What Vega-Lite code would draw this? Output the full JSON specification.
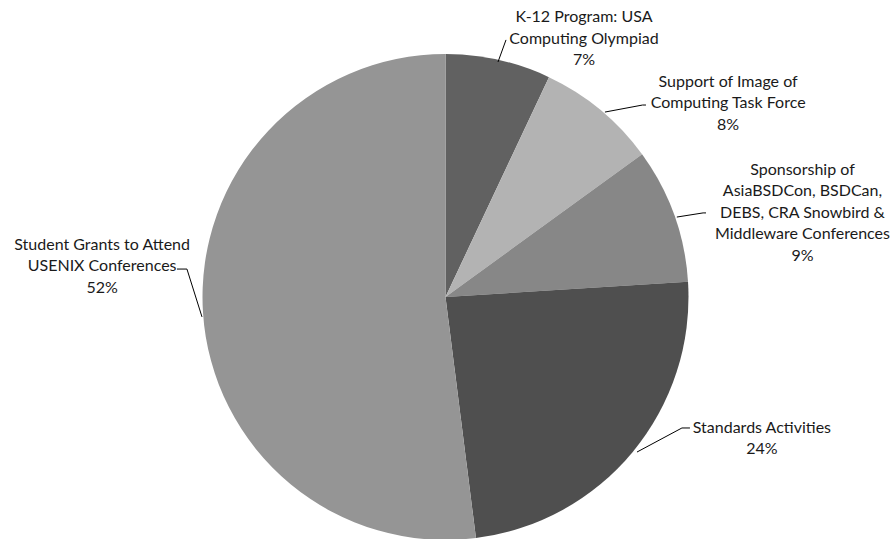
{
  "$schema": "https://vega.github.io/schema/vega-lite/v6.json",
  "width": 891,
  "height": 594,
  "autosize": {"type": "none"},
  "padding": 0,
  "background": "white",
  "config": {"view": {"stroke": null}},
  "datasets": {
    "slices": [
      {"category": "K-12 Program: USA Computing Olympiad", "pct": 7, "rank": 1},
      {"category": "Support of Image of Computing Task Force", "pct": 8, "rank": 2},
      {"category": "Sponsorship of AsiaBSDCon, BSDCan, DEBS, CRA Snowbird & Middleware Conferences", "pct": 9, "rank": 3},
      {"category": "Standards Activities", "pct": 24, "rank": 4},
      {"category": "Student Grants to Attend USENIX Conferences", "pct": 52, "rank": 5}
    ],
    "leaders": [
      {"id": "a", "seq": 1, "u": 0.216, "v": 0.967},
      {"id": "a", "seq": 2, "u": 0.249, "v": 1.058},
      {"id": "b", "seq": 1, "u": 0.656, "v": 0.761},
      {"id": "b", "seq": 2, "u": 0.811, "v": 0.790},
      {"id": "b", "seq": 3, "u": 0.825, "v": 0.790},
      {"id": "c", "seq": 1, "u": 0.952, "v": 0.329},
      {"id": "c", "seq": 2, "u": 1.060, "v": 0.346},
      {"id": "c", "seq": 3, "u": 1.072, "v": 0.346},
      {"id": "d", "seq": 1, "u": 0.788, "v": -0.638},
      {"id": "d", "seq": 2, "u": 0.973, "v": -0.539},
      {"id": "d", "seq": 3, "u": 1.006, "v": -0.539},
      {"id": "e", "seq": 1, "u": -1.105, "v": 0.115},
      {"id": "e", "seq": 2, "u": -1.064, "v": 0.115},
      {"id": "e", "seq": 3, "u": -1.002, "v": -0.082}
    ],
    "labels": [
      {"text": "K-12 Program: USA\nComputing Olympiad\n7%", "u": 0.570, "v": 1.152},
      {"text": "Support of Image of\nComputing Task Force\n8%", "u": 1.163, "v": 0.885},
      {"text": "Sponsorship of\nAsiaBSDCon, BSDCan,\nDEBS, CRA Snowbird &\nMiddleware Conferences\n9%", "u": 1.469, "v": 0.523},
      {"text": "Standards Activities\n24%", "u": 1.302, "v": -0.539},
      {"text": "Student Grants to Attend\nUSENIX Conferences\n52%", "u": -1.413, "v": 0.214}
    ]
  },
  "layer": [
    {
      "data": {"name": "slices"},
      "mark": {"type": "arc", "outerRadius": 243},
      "encoding": {
        "theta": {"field": "pct", "type": "quantitative", "stack": true},
        "order": {"field": "rank", "type": "quantitative"},
        "color": {
          "field": "category",
          "type": "nominal",
          "legend": null,
          "scale": {
            "domain": [
              "K-12 Program: USA Computing Olympiad",
              "Support of Image of Computing Task Force",
              "Sponsorship of AsiaBSDCon, BSDCan, DEBS, CRA Snowbird & Middleware Conferences",
              "Standards Activities",
              "Student Grants to Attend USENIX Conferences"
            ],
            "range": ["#616161", "#b3b3b3", "#878787", "#4f4f4f", "#959595"]
          }
        }
      }
    },
    {
      "data": {"name": "leaders"},
      "mark": {"type": "line", "color": "#000000", "strokeWidth": 1},
      "encoding": {
        "x": {"field": "u", "type": "quantitative", "axis": null, "scale": {"domain": [-1.8333, 1.8333], "nice": false, "zero": false}},
        "y": {"field": "v", "type": "quantitative", "axis": null, "scale": {"domain": [-1.2222, 1.2222], "nice": false, "zero": false}},
        "detail": {"field": "id", "type": "nominal"},
        "order": {"field": "seq", "type": "quantitative"}
      }
    },
    {
      "data": {"name": "labels"},
      "mark": {"type": "text", "align": "center", "baseline": "middle", "lineBreak": "\n", "lineHeight": 21.5, "font": "Lato", "fontSize": 16, "color": "#1a1a1a"},
      "encoding": {
        "x": {"field": "u", "type": "quantitative"},
        "y": {"field": "v", "type": "quantitative"},
        "text": {"field": "text", "type": "nominal"}
      }
    }
  ]
}
